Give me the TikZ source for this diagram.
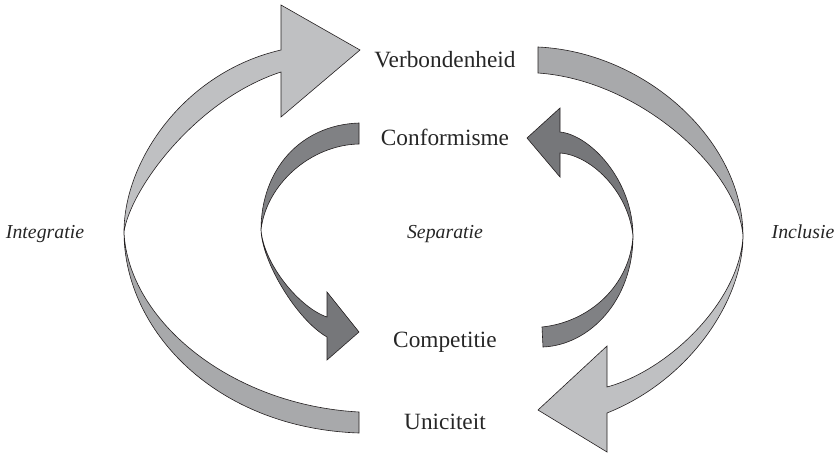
\documentclass[tikz,border=0pt]{standalone}
\usepackage{fontspec}
\setmainfont{Liberation Serif}
\definecolor{bighead}{HTML}{BFC0C2}
\definecolor{bigtail}{HTML}{A8A9AB}
\definecolor{smallhead}{HTML}{76777A}
\definecolor{smalltail}{HTML}{808184}
\definecolor{edge}{HTML}{231F20}
\tikzset{
  ribbon/.style={draw=edge, line width=0.6pt, line join=miter},
  lbl/.style={anchor=base, inner sep=0pt, font=\fontsize{23.3}{27}\selectfont, text=black!85},
  ilbl/.style={lbl, font=\fontsize{19.8}{24}\selectfont\itshape}
}
\begin{document}
\begin{tikzpicture}[x=1pt,y=-1pt]
\useasboundingbox (0,0) rectangle (836,458);
% big left: lower half (tail)
\path[ribbon, fill=bigtail] (124,232) .. controls (124,330) and (215,428) .. (359,433)
  -- (359,412) .. controls (230,405) and (128,320) .. (124,232) -- cycle;
% big left: upper half (head)
\path[ribbon, fill=bighead] (124,232) .. controls (124,160) and (185,72) .. (281,50)
  -- (281,5) -- (360,50) -- (281,117) -- (281,72)
  .. controls (195,100) and (130,190) .. (124,232) -- cycle;
% big right: upper half (tail)
\path[ribbon, fill=bigtail] (743,236) .. controls (743,140) and (645,52) .. (538,47)
  -- (538,73) .. controls (640,80) and (738,170) .. (743,236) -- cycle;
% big right: lower half (head)
\path[ribbon, fill=bighead] (743,236) .. controls (743,300) and (690,380) .. (607,413)
  -- (607,452) -- (538,410) -- (607,346) -- (607,387)
  .. controls (670,370) and (740,300) .. (743,236) -- cycle;
% small left: upper half (tail)
\path[ribbon, fill=smalltail] (261,230) .. controls (261,170) and (300,125) .. (359,123)
  -- (359,144) .. controls (310,145) and (266,185) .. (261,230) -- cycle;
% small left: lower half (head)
\path[ribbon, fill=smallhead] (261,230) .. controls (262,262) and (297,320) .. (327,337)
  -- (327,360) -- (359,332) -- (327,292) -- (327,317)
  .. controls (300,308) and (264,265) .. (261,230) -- cycle;
% small right: lower half (tail)
\path[ribbon, fill=smalltail] (633,236) .. controls (633,300) and (590,345) .. (543,347)
  -- (542,327) .. controls (590,322) and (630,285) .. (633,236) -- cycle;
% small right: upper half (head)
\path[ribbon, fill=smallhead] (633,236) .. controls (633,180) and (590,135) .. (560,132)
  -- (560,108) -- (527,138) -- (560,177) -- (560,153)
  .. controls (590,155) and (628,190) .. (633,236) -- cycle;
% labels
\node[lbl] (verb) at (445,67) {Verbondenheid};
\node[lbl] (conf) at (445,145) {Conformisme};
\node[ilbl] (sep) at (445,238) {Separatie};
\node[lbl] (comp) at (445,347) {Competitie};
\node[lbl] (unic) at (445,429) {Uniciteit};
\node[ilbl] (integ) at (45,238) {Integratie};
\node[ilbl] (incl) at (803,238) {Inclusie};
\end{tikzpicture}
\end{document}
